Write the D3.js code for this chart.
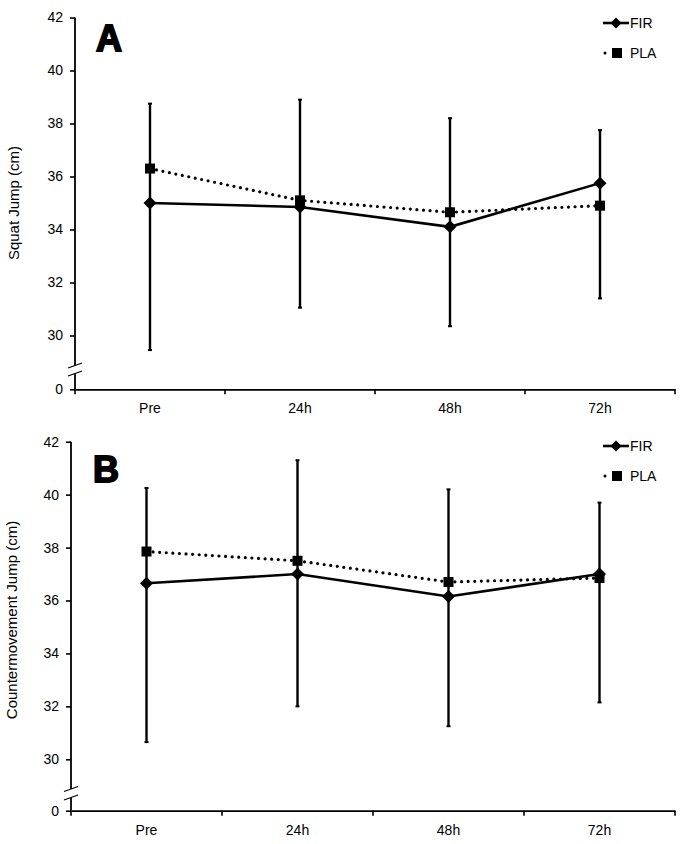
<!DOCTYPE html>
<html><head><meta charset="utf-8">
<script src="https://cdn.jsdelivr.net/npm/d3@7"></script>
<style>
body{margin:0;background:#fff;}
svg{display:block;font-family:"Liberation Sans",Arial,sans-serif;}
</style></head>
<body><svg id="chart" width="685" height="844"></svg>
<script>
const categories = ["Pre","24h","48h","72h"];
const seriesNames = ["FIR","PLA"];
const yTicks = [0,30,32,34,36,38,40,42];

const sjFIR = [35.0, 34.85, 34.1, 35.75];
const sjPLA = [36.3, 35.1, 34.65, 34.9];
const sjErrHigh = [38.75, 38.9, 38.2, 37.75];
const sjErrLow = [29.45, 31.05, 30.35, 31.4];

const cmjFIR = [36.65, 37.0, 36.15, 37.0];
const cmjPLA = [37.85, 37.5, 36.7, 36.85];
const cmjErrHigh = [40.25, 41.3, 40.2, 39.7];
const cmjErrLow = [30.65, 32.0, 31.25, 32.15];

const svg = d3.select("#chart");
const FONT = "'Liberation Sans',Arial,sans-serif";

function diamondPath(r){ return `M0,${-r}L${r},0L0,${r}L${-r},0Z`; }

function drawPanel(cfg){
  const g = svg.append("g");
  const x = d3.scaleBand().domain(categories).range(cfg.xr);
  // linear from 29 to 42, with the 0 baseline compressed below the axis break
  const lin = d3.scaleLinear().domain([30,42]).range([cfg.y30, cfg.y42]);
  const y = d3.scaleLinear().domain([0,29,42]).range([cfg.y0, lin(29), cfg.y42]);
  const cx = c => x(c) + x.bandwidth()/2;

  // y axis
  const yAx = g.append("g").attr("transform",`translate(${cfg.xr[0]},0)`)
    .call(d3.axisLeft(y).tickValues(yTicks).tickSize(5).tickPadding(7).tickFormat(d3.format("d")));
  yAx.select(".domain").remove();
  yAx.selectAll(".tick line").attr("stroke","#000").attr("stroke-width",1.6);
  yAx.selectAll(".tick text").attr("font-size",14).attr("fill","#000").attr("font-family",FONT);
  const bTop = cfg.brk[0], bBot = cfg.brk[1];
  g.append("line").attr("x1",cfg.xr[0]).attr("x2",cfg.xr[0]).attr("y1",y(42)).attr("y2",bTop)
    .attr("stroke","#000").attr("stroke-width",1.8);
  g.append("line").attr("x1",cfg.xr[0]).attr("x2",cfg.xr[0]).attr("y1",bBot).attr("y2",y(0))
    .attr("stroke","#000").attr("stroke-width",1.8);
  [bTop, bBot].forEach(b=>{
    g.append("line").attr("x1",cfg.xr[0]-7).attr("x2",cfg.xr[0]+7)
      .attr("y1",b+2.5).attr("y2",b-2.5).attr("stroke","#000").attr("stroke-width",1.3);
  });

  // x axis
  const xAx = g.append("g").attr("transform",`translate(0,${y(0)})`)
    .call(d3.axisBottom(x).tickSize(0).tickPadding(14));
  xAx.select(".domain").attr("stroke","#000").attr("stroke-width",1.8);
  xAx.selectAll(".tick text").attr("font-size",14).attr("fill","#000").attr("font-family",FONT);
  const bounds = categories.map(c=>x(c)).concat([cfg.xr[1]]);
  g.selectAll(".xt").data(bounds).enter().append("line")
    .attr("x1",d=>d).attr("x2",d=>d).attr("y1",y(0)).attr("y2",y(0)+5)
    .attr("stroke","#000").attr("stroke-width",1.6);

  // y label
  g.append("text").attr("transform",`translate(${cfg.labelX},${cfg.labelY}) rotate(-90)`)
    .attr("text-anchor","middle").attr("font-size",15).attr("fill","#000").text(cfg.label);

  // panel letter
  g.append("text").attr("x",cfg.letterPos[0]).attr("y",cfg.letterPos[1])
    .attr("font-size",36).attr("font-weight",900).attr("fill","#000")
    .attr("stroke","#000").attr("stroke-width",1.8)
    .attr("font-family",FONT).text(cfg.letter);

  // error bars
  categories.forEach((c,i)=>{
    g.append("line").attr("x1",cx(c)).attr("x2",cx(c))
      .attr("y1",y(cfg.hi[i])).attr("y2",y(cfg.lo[i]))
      .attr("stroke","#000").attr("stroke-width",2.4);
    [cfg.hi[i],cfg.lo[i]].forEach(v=>{
      g.append("line").attr("x1",cx(c)-2).attr("x2",cx(c)+2)
        .attr("y1",y(v)).attr("y2",y(v)).attr("stroke","#000").attr("stroke-width",2);
    });
  });

  const line = d3.line().x((d,i)=>cx(categories[i])).y(d=>y(d));
  g.append("path").datum(cfg.pla).attr("d",line).attr("fill","none")
    .attr("stroke","#000").attr("stroke-width",3.2).attr("stroke-linecap","round")
    .attr("stroke-dasharray","0,6.6");
  g.append("path").datum(cfg.fir).attr("d",line).attr("fill","none")
    .attr("stroke","#000").attr("stroke-width",2.6);

  const sq = d3.symbol().type(d3.symbolSquare).size(100);
  g.selectAll(".pla").data(cfg.pla).enter().append("path")
    .attr("d",sq).attr("transform",(d,i)=>`translate(${cx(categories[i])},${y(d)})`).attr("fill","#000");
  g.selectAll(".fir").data(cfg.fir).enter().append("path")
    .attr("d",diamondPath(6.5)).attr("transform",(d,i)=>`translate(${cx(categories[i])},${y(d)})`).attr("fill","#000");

  // legend
  const lx = cfg.legend[0], ly = cfg.legend[1];
  g.append("line").attr("x1",lx).attr("x2",lx+26).attr("y1",ly).attr("y2",ly)
    .attr("stroke","#000").attr("stroke-width",2.6);
  g.append("path").attr("d",diamondPath(5.5)).attr("transform",`translate(${lx+13},${ly})`).attr("fill","#000");
  g.append("text").attr("x",lx+27).attr("y",ly+5).attr("font-size",14).attr("fill","#000").text(seriesNames[0]);
  const ly2 = ly + 30;
  g.append("circle").attr("cx",lx+2).attr("cy",ly2).attr("r",1.5).attr("fill","#000");
  g.append("path").attr("d",sq).attr("transform",`translate(${lx+14},${ly2})`).attr("fill","#000");
  g.append("text").attr("x",lx+27).attr("y",ly2+5).attr("font-size",14).attr("fill","#000").text(seriesNames[1]);
}

drawPanel({xr:[75,675], y0:389.3, y30:335.5, y42:17.5, brk:[365.5,373.5],
  label:"Squat Jump (cm)", labelX:19, labelY:203, letter:"A", letterPos:[96,51],
  fir:sjFIR, pla:sjPLA, hi:sjErrHigh, lo:sjErrLow, legend:[603,23]});
drawPanel({xr:[71,675], y0:810.7, y30:759.3, y42:441.7, brk:[789,797.5],
  label:"Countermovement Jump (cm)", labelX:17, labelY:620, letter:"B", letterPos:[93,482],
  fir:cmjFIR, pla:cmjPLA, hi:cmjErrHigh, lo:cmjErrLow, legend:[603,446]});
</script></body></html>
